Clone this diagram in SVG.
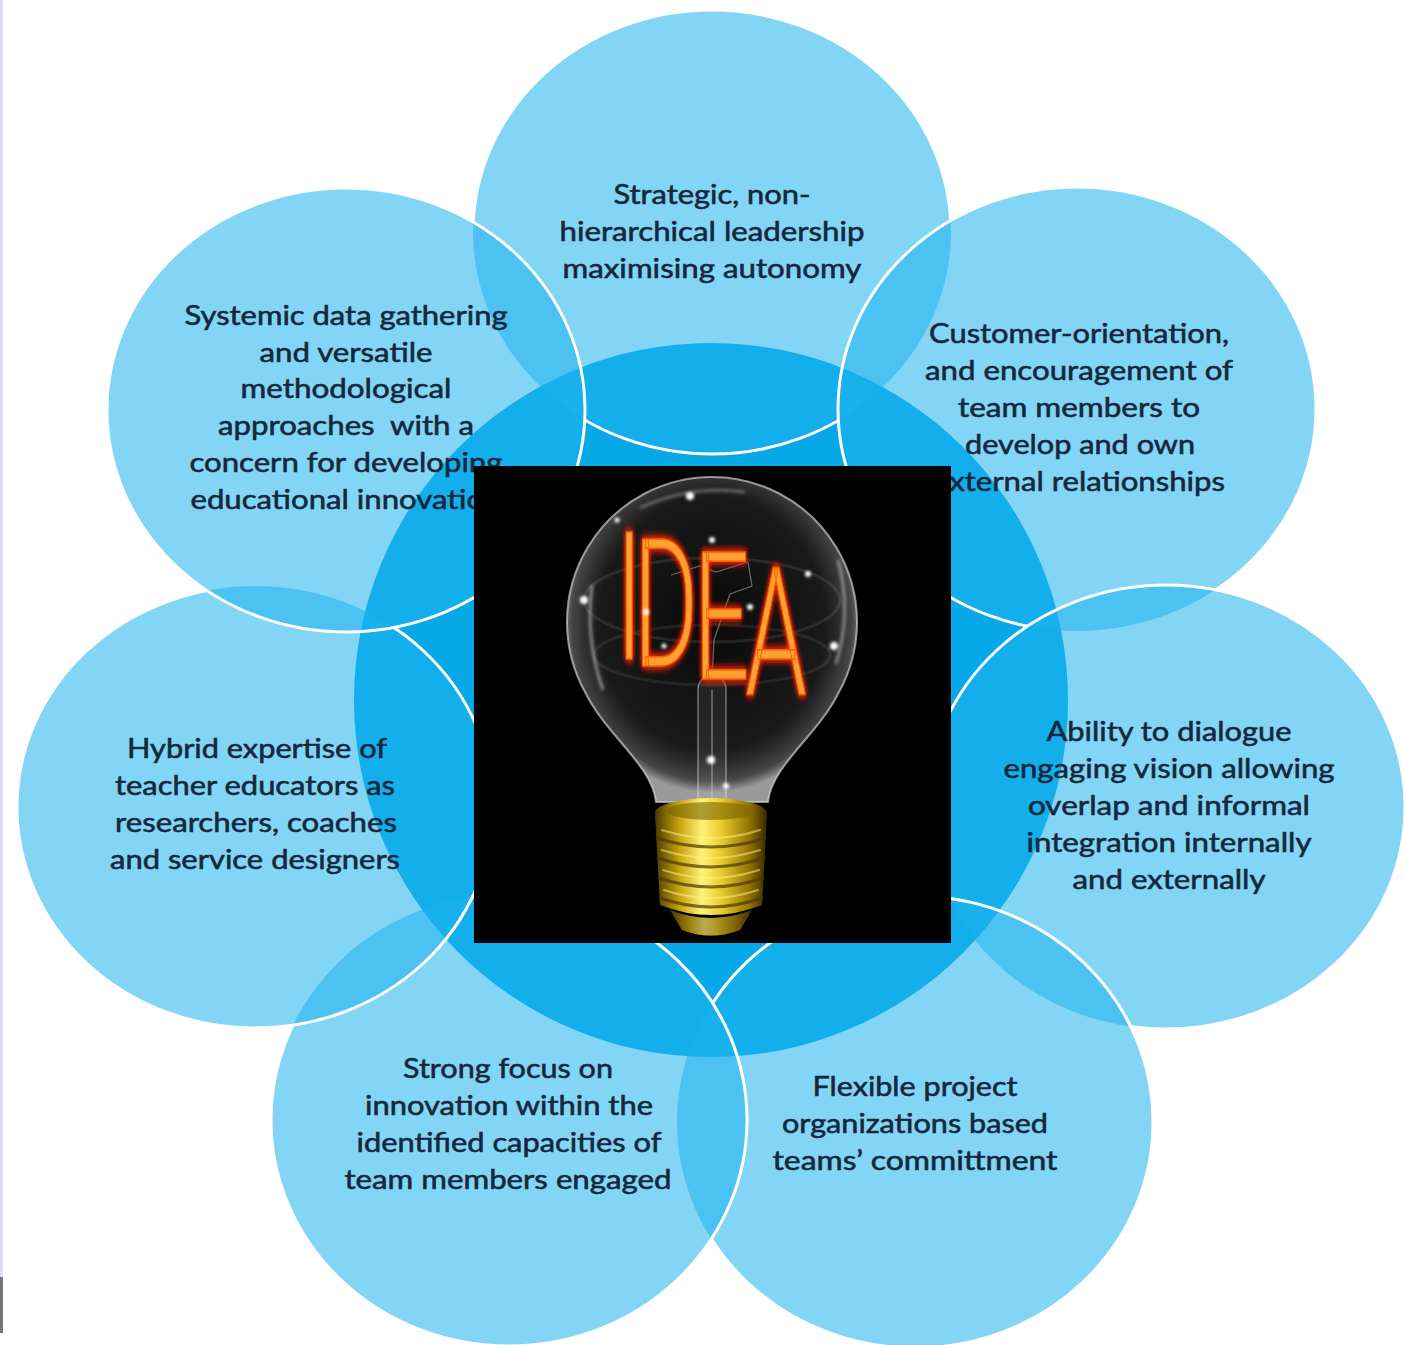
<svg xmlns="http://www.w3.org/2000/svg" width="1404" height="1345" viewBox="0 0 1404 1345">
  <defs>
    <style>
      .c { fill: rgb(29,178,238); fill-opacity: 0.55; }
      .o { fill: none; stroke: #ffffff; stroke-width: 3; }
      .t { font-family: Lato, "Open Sans", "Liberation Sans", sans-serif; font-size: 26px; fill: #14283c; stroke: #14283c; stroke-width: 0.55; text-anchor: middle; }
      .hl { fill: #ffffff; }
    </style>
    <mask id="m1" maskUnits="userSpaceOnUse" x="0" y="0" width="1404" height="1345">
      <rect width="1404" height="1345" fill="#fff"/>
      <ellipse cx="1077" cy="409" rx="239" ry="222" fill="#000"/>
      <ellipse cx="346" cy="410" rx="239" ry="222" fill="#000"/>
    </mask>
    <mask id="m2" maskUnits="userSpaceOnUse" x="0" y="0" width="1404" height="1345">
      <rect width="1404" height="1345" fill="#fff"/>
      <ellipse cx="1166" cy="807" rx="239" ry="222" fill="#000"/>
    </mask>
    <mask id="m3" maskUnits="userSpaceOnUse" x="0" y="0" width="1404" height="1345">
      <rect width="1404" height="1345" fill="#fff"/>
      <ellipse cx="915" cy="1122" rx="238" ry="226" fill="#000"/>
    </mask>
    <mask id="m4" maskUnits="userSpaceOnUse" x="0" y="0" width="1404" height="1345">
      <rect width="1404" height="1345" fill="#fff"/>
      <ellipse cx="509" cy="1120" rx="238" ry="226" fill="#000"/>
    </mask>
    <mask id="m5" maskUnits="userSpaceOnUse" x="0" y="0" width="1404" height="1345">
      <rect width="1404" height="1345" fill="#fff"/>
      <ellipse cx="255" cy="807" rx="238" ry="221" fill="#000"/>
    </mask>
    <mask id="m6" maskUnits="userSpaceOnUse" x="0" y="0" width="1404" height="1345">
      <rect width="1404" height="1345" fill="#fff"/>
      <ellipse cx="346" cy="410" rx="239" ry="222" fill="#000"/>
    </mask>
    <radialGradient id="glass" cx="50%" cy="45%" r="52%">
      <stop offset="0" stop-color="#2a2a2a" stop-opacity="0.25"/>
      <stop offset="0.75" stop-color="#555" stop-opacity="0.3"/>
      <stop offset="0.93" stop-color="#9a9a9a" stop-opacity="0.45"/>
      <stop offset="1" stop-color="#dcdcdc" stop-opacity="0.7"/>
    </radialGradient>
    <linearGradient id="gold" x1="0" y1="0" x2="1" y2="0">
      <stop offset="0" stop-color="#4a3900"/>
      <stop offset="0.22" stop-color="#c9a50f"/>
      <stop offset="0.42" stop-color="#fff27a"/>
      <stop offset="0.58" stop-color="#ecd030"/>
      <stop offset="0.85" stop-color="#8e7000"/>
      <stop offset="1" stop-color="#352800"/>
    </linearGradient>
    <filter id="neon" x="-40%" y="-30%" width="180%" height="160%">
      <feGaussianBlur in="SourceAlpha" stdDeviation="4" result="b"/>
      <feFlood flood-color="#ff2a00" result="f"/>
      <feComposite in="f" in2="b" operator="in" result="g"/>
      <feMerge>
        <feMergeNode in="g"/>
        <feMergeNode in="g"/>
        <feMergeNode in="SourceGraphic"/>
      </feMerge>
    </filter>
    <filter id="soft" x="-100%" y="-100%" width="300%" height="300%">
      <feGaussianBlur stdDeviation="1.6"/>
    </filter>
  </defs>

  <rect width="1404" height="1345" fill="#ffffff"/>
  <rect x="0" y="0" width="3" height="1277" fill="#dcdfef"/>
  <rect x="0" y="1277" width="3" height="56" fill="#777777"/>

  <g id="center-circle">
    <circle cx="711" cy="700" r="357" fill="#07a8e8"/>
  </g>

  <g id="node-leadership">
    <ellipse class="c" cx="712" cy="232" rx="239" ry="222"/>
    <ellipse class="o" cx="712" cy="232" rx="239" ry="222" mask="url(#m1)"/>
    <text class="t" x="712" y="204" textLength="197" lengthAdjust="spacingAndGlyphs">Strategic, non-</text>
    <text class="t" x="712" y="241" textLength="305" lengthAdjust="spacingAndGlyphs">hierarchical leadership</text>
    <text class="t" x="712" y="278" textLength="299" lengthAdjust="spacingAndGlyphs">maximising autonomy</text>
  </g>

  <g id="node-customer">
    <ellipse class="c" cx="1077" cy="409" rx="239" ry="222"/>
    <ellipse class="o" cx="1077" cy="409" rx="239" ry="222" mask="url(#m2)"/>
    <text class="t" x="1079" y="343" textLength="300" lengthAdjust="spacingAndGlyphs">Customer-orientation,</text>
    <text class="t" x="1079" y="380" textLength="308" lengthAdjust="spacingAndGlyphs">and encouragement of</text>
    <text class="t" x="1079" y="417" textLength="242" lengthAdjust="spacingAndGlyphs">team members to</text>
    <text class="t" x="1080" y="454" textLength="230" lengthAdjust="spacingAndGlyphs">develop and own</text>
    <text class="t" x="1079" y="491" textLength="292" lengthAdjust="spacingAndGlyphs">external relationships</text>
  </g>

  <g id="node-dialogue">
    <ellipse class="c" cx="1166" cy="807" rx="239" ry="222"/>
    <ellipse class="o" cx="1166" cy="807" rx="239" ry="222" mask="url(#m3)"/>
    <text class="t" x="1169" y="741" textLength="245" lengthAdjust="spacingAndGlyphs">Ability to dialogue</text>
    <text class="t" x="1169" y="778" textLength="331" lengthAdjust="spacingAndGlyphs">engaging vision allowing</text>
    <text class="t" x="1169" y="815" textLength="282" lengthAdjust="spacingAndGlyphs">overlap and informal</text>
    <text class="t" x="1169" y="852" textLength="285" lengthAdjust="spacingAndGlyphs">integration internally</text>
    <text class="t" x="1169" y="889" textLength="193" lengthAdjust="spacingAndGlyphs">and externally</text>
  </g>

  <g id="node-flexible">
    <ellipse class="c" cx="915" cy="1122" rx="238" ry="226"/>
    <ellipse class="o" cx="915" cy="1122" rx="238" ry="226" mask="url(#m4)"/>
    <text class="t" x="915" y="1096" textLength="205" lengthAdjust="spacingAndGlyphs">Flexible project</text>
    <text class="t" x="915" y="1133" textLength="266" lengthAdjust="spacingAndGlyphs">organizations based</text>
    <text class="t" x="915" y="1170" textLength="285" lengthAdjust="spacingAndGlyphs">teams’ committment</text>
  </g>

  <g id="node-focus">
    <ellipse class="c" cx="509" cy="1120" rx="238" ry="226"/>
    <ellipse class="o" cx="509" cy="1120" rx="238" ry="226" mask="url(#m5)"/>
    <text class="t" x="508" y="1078" textLength="210" lengthAdjust="spacingAndGlyphs">Strong focus on</text>
    <text class="t" x="509" y="1115" textLength="288" lengthAdjust="spacingAndGlyphs">innovation within the</text>
    <text class="t" x="509" y="1152" textLength="305" lengthAdjust="spacingAndGlyphs">identified capacities of</text>
    <text class="t" x="508" y="1189" textLength="327" lengthAdjust="spacingAndGlyphs">team members engaged</text>
  </g>

  <g id="node-expertise">
    <ellipse class="c" cx="255" cy="807" rx="238" ry="221"/>
    <ellipse class="o" cx="255" cy="807" rx="238" ry="221" mask="url(#m6)"/>
    <text class="t" x="257" y="758" textLength="260" lengthAdjust="spacingAndGlyphs">Hybrid expertise of</text>
    <text class="t" x="255" y="795" textLength="280" lengthAdjust="spacingAndGlyphs">teacher educators as</text>
    <text class="t" x="256" y="832" textLength="282" lengthAdjust="spacingAndGlyphs">researchers, coaches</text>
    <text class="t" x="255" y="869" textLength="290" lengthAdjust="spacingAndGlyphs">and service designers</text>
  </g>

  <g id="node-systemic">
    <ellipse class="c" cx="346" cy="410" rx="239" ry="222"/>
    <ellipse class="o" cx="346" cy="410" rx="239" ry="222"/>
    <text class="t" x="346" y="325" textLength="323" lengthAdjust="spacingAndGlyphs">Systemic data gathering</text>
    <text class="t" x="346" y="362" textLength="173" lengthAdjust="spacingAndGlyphs">and versatile</text>
    <text class="t" x="346" y="398" textLength="211" lengthAdjust="spacingAndGlyphs">methodological</text>
    <text class="t" x="346" y="435" textLength="256" lengthAdjust="spacingAndGlyphs" xml:space="preserve">approaches  with a</text>
    <text class="t" x="346" y="472" textLength="313" lengthAdjust="spacingAndGlyphs">concern for developing</text>
    <text class="t" x="346" y="509" textLength="311" lengthAdjust="spacingAndGlyphs">educational innovation</text>
  </g>

  <g id="idea-image">
    <rect x="474" y="466" width="477" height="477" fill="#000000"/>
    <ellipse cx="712" cy="600" rx="128" ry="42" fill="none" stroke="#8a8a8a" stroke-opacity="0.22" stroke-width="3"/>
    <ellipse cx="712" cy="655" rx="118" ry="30" fill="none" stroke="#8a8a8a" stroke-opacity="0.18" stroke-width="3"/>
    <path d="M656,802 C652,765 606,735 585,692 A145,145 0 1 1 839,692 C818,735 772,765 768,802 Z" fill="url(#glass)" stroke="#d8d8d8" stroke-opacity="0.65" stroke-width="2"/>
    <path d="M592,585 Q585,640 603,690" fill="none" stroke="#ffffff" stroke-opacity="0.45" stroke-width="3" filter="url(#soft)"/>
    <path d="M838,560 Q852,612 836,664" fill="none" stroke="#ffffff" stroke-opacity="0.4" stroke-width="3" filter="url(#soft)"/>
    <path d="M640,508 Q690,485 745,492" fill="none" stroke="#ffffff" stroke-opacity="0.3" stroke-width="3" filter="url(#soft)"/>
    <rect x="698" y="676" width="28" height="134" rx="13" fill="#ffffff" fill-opacity="0.07" stroke="#e6e6e6" stroke-opacity="0.45" stroke-width="1.5"/>
    <line x1="712" y1="690" x2="712" y2="805" stroke="#d0d0d0" stroke-opacity="0.35" stroke-width="2"/>
    <polyline points="671,575 700,566 716,572 748,562 752,586 730,594 714,640 712,678" fill="none" stroke="#bdbdbd" stroke-opacity="0.5" stroke-width="1.3"/>
    <text transform="scale(0.55,1)" x="1120" y="659" dx="0 -16 -8 -8" dy="0 7 13 16" font-family="Roboto, 'Liberation Sans', sans-serif" font-weight="300" font-size="179" fill="#ffa030" stroke="#ff5a00" stroke-width="1.5" filter="url(#neon)">IDEA</text>
    <g filter="url(#soft)">
      <circle class="hl" cx="690" cy="496" r="4"/>
      <circle class="hl" cx="712" cy="540" r="3"/>
      <circle class="hl" cx="584" cy="600" r="4"/>
      <circle class="hl" cx="834" cy="646" r="4"/>
      <circle class="hl" cx="646" cy="612" r="3"/>
      <circle class="hl" cx="750" cy="607" r="3"/>
      <circle class="hl" cx="711" cy="760" r="4"/>
      <circle class="hl" cx="726" cy="786" r="3"/>
      <circle class="hl" cx="664" cy="646" r="2.5"/>
      <circle class="hl" cx="808" cy="574" r="3"/>
      <circle class="hl" cx="617" cy="520" r="2.5"/>
    </g>
    <path d="M655,815 L660,905 Q711,925 762,905 L767,815 Q711,835 655,815 Z" fill="url(#gold)"/>
    <ellipse cx="711" cy="813" rx="56" ry="15" fill="url(#gold)"/>
    <ellipse cx="711" cy="811" rx="45" ry="9" fill="#7a6400" fill-opacity="0.6"/>
    <g fill="none" stroke-linecap="round">
      <path d="M657,838 Q711,856 765,838" stroke="#4a3800" stroke-width="3" stroke-opacity="0.7"/>
      <path d="M658,858 Q711,876 764,858" stroke="#4a3800" stroke-width="3" stroke-opacity="0.7"/>
      <path d="M659,878 Q711,896 763,878" stroke="#4a3800" stroke-width="3" stroke-opacity="0.7"/>
      <path d="M660,898 Q711,916 762,898" stroke="#4a3800" stroke-width="3" stroke-opacity="0.7"/>
      <path d="M662,830 Q711,846 760,830" stroke="#fff48a" stroke-width="2" stroke-opacity="0.5"/>
      <path d="M662,850 Q711,866 760,850" stroke="#fff48a" stroke-width="2" stroke-opacity="0.5"/>
      <path d="M663,870 Q711,886 759,870" stroke="#fff48a" stroke-width="2" stroke-opacity="0.5"/>
      <path d="M664,890 Q711,906 758,890" stroke="#fff48a" stroke-width="2" stroke-opacity="0.5"/>
    </g>
    <path d="M670,910 Q711,926 752,910 L740,930 Q711,941 682,930 Z" fill="url(#gold)"/>
    <path d="M670,910 Q711,926 752,910 L740,930 Q711,941 682,930 Z" fill="#3a2c00" fill-opacity="0.35"/>
  </g>
</svg>
